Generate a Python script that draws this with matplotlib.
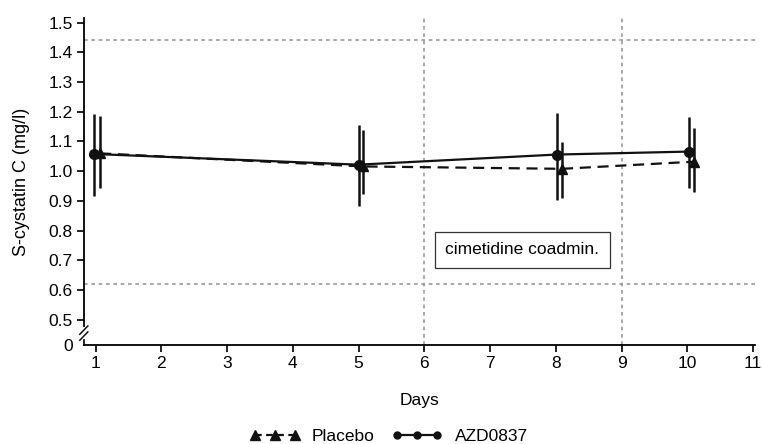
import matplotlib.pyplot as plt
from matplotlib.lines import Line2D

plt.rcParams['font.family'] = ['Liberation Sans', 'DejaVu Sans']

# data
days_azd = [0.97, 5.0, 8.01, 10.02]
azd_mean = [1.058, 1.022, 1.056, 1.066]
azd_low = [0.917, 0.882, 0.904, 0.944]
azd_high = [1.194, 1.156, 1.197, 1.184]

days_pla = [1.07, 5.07, 8.09, 10.1]
pla_mean = [1.060, 1.016, 1.008, 1.032]
pla_low = [0.945, 0.923, 0.911, 0.929]
pla_high = [1.185, 1.140, 1.097, 1.144]

ref_low, ref_high = 0.62, 1.44   # reference range
coadmin_days = [6, 9]            # cimetidine coadministration window

x_ticks = list(range(1, 12))
y_ticks = [0.5, 0.6, 0.7, 0.8, 0.9, 1.0, 1.1, 1.2, 1.3, 1.4, 1.5]
y_bottom = 0.415

fs = 12.5
fig = plt.figure(figsize=(7.62, 4.44), dpi=100)
ax = fig.add_axes([0.110, 0.223, 0.881, 0.736])

grey = '#9a9a9a'
dot = (0, (2.2, 2.2))
ax.axhline(ref_high, color=grey, lw=1.2, ls=dot, zorder=1)
ax.axhline(ref_low, color=grey, lw=1.2, ls=dot, zorder=1)
for d in coadmin_days:
    ax.axvline(d, color=grey, lw=1.2, ls=dot, zorder=1)

# error bars (no caps)
ax.vlines(days_azd, azd_low, azd_high, color='#111111', lw=1.8, zorder=3)
ax.vlines(days_pla, pla_low, pla_high, color='#111111', lw=1.8, zorder=3)

ax.plot(days_pla, pla_mean, color='#111111', lw=1.6, ls=(0, (5, 3)),
        marker='^', ms=7, zorder=4)
ax.plot(days_azd, azd_mean, color='#111111', lw=1.6, ls='-',
        marker='o', ms=7, zorder=4)

ax.text(7.49, 0.736, 'cimetidine coadmin.', ha='center', va='center', fontsize=fs,
        bbox=dict(boxstyle='square,pad=0.6', fc='white', ec='#333333', lw=0.9), zorder=5)

ax.set_xlim(0.822, 11.03)
ax.set_ylim(y_bottom, 1.515)
ax.set_xticks(x_ticks)
ax.set_yticks(y_ticks + [y_bottom])
ax.set_yticklabels([f'{v:.1f}' for v in y_ticks] + ['0'])
ax.yaxis.get_major_ticks()[-1].tick1line.set_visible(False)
ax.tick_params(labelsize=fs, length=5, width=1.3, color='#111111', pad=3)
ax.set_xlabel('Days', fontsize=fs, labelpad=16)
ax.set_ylabel('S-cystatin C (mg/l)', fontsize=13, labelpad=13)

for s in ['top', 'right']:
    ax.spines[s].set_visible(False)
ax.spines['bottom'].set_linewidth(1.3)
ax.spines['left'].set_linewidth(1.3)
ax.spines['left'].set_bounds(0.48, 1.515)

# axis break
ytr = ax.get_yaxis_transform()
ax.plot([0, 0], [y_bottom, 0.432], color='#111111', lw=1.3, transform=ytr, clip_on=False)
for y0 in [0.445, 0.465]:
    ax.plot([-0.006, 0.006], [y0 - 0.014, y0 + 0.014], color='#111111', lw=1.1,
            transform=ytr, clip_on=False)

handles = [
    Line2D([], [], color='#111111', lw=1.6, ls=(0, (3, 2)), marker='^', ms=7),
    Line2D([], [], color='#111111', lw=1.6, ls='-', marker='o', ms=5),
]
fig.legend(handles, ['Placebo', 'AZD0837'], loc='lower center', bbox_to_anchor=(0.51, -0.035),
           ncol=2, frameon=False, numpoints=3, handlelength=2.9, fontsize=fs,
           columnspacing=1.0, handletextpad=0.7)

fig.savefig('out.png', dpi=100)
